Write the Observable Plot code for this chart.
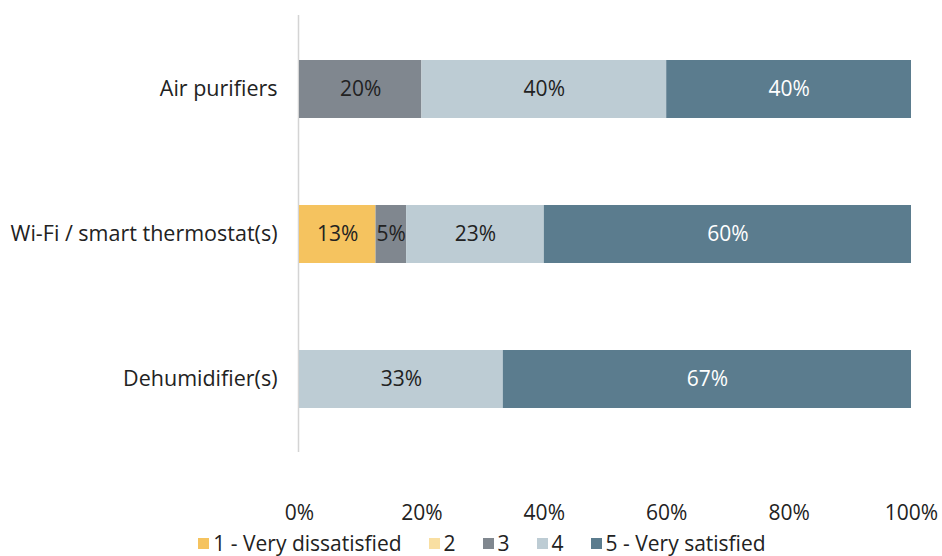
<!DOCTYPE html>
<html><head><meta charset="utf-8">
<script src="https://cdn.jsdelivr.net/npm/d3@7"></script>
<script src="https://cdn.jsdelivr.net/npm/@observablehq/plot@0.6"></script>
<style>
body{margin:0;background:#fff;font-family:"Open Sans",sans-serif;}
#legend{display:flex;justify-content:center;gap:27px;font-size:21px;color:#222;padding-left:22px;height:26px;align-items:center;margin-top:0;line-height:1}
#legend span.sw{display:inline-block;width:11px;height:11px;margin-right:4px}
</style></head><body>
<div id="chart"></div>
<div id="legend"></div>
<script>
const categories = ["Air purifiers", "Wi-Fi / smart thermostat(s)", "Dehumidifier(s)"];
const seriesNames = ["1 - Very dissatisfied", "2", "3", "4", "5 - Very satisfied"];
const colors = ["#F5C35F", "#F9DFA2", "#80878F", "#BDCCD4", "#5B7C8E"];
const labelColors = ["#222", "#222", "#222", "#222", "#fff"];
// percentage per series, in order of categories
const s1 = [0, 12.5, 0];
const s2 = [0, 0, 0];
const s3 = [20, 5, 0];
const s4 = [40, 22.5, 33.3];
const s5 = [40, 60, 66.7];
const xTicks = [0, 20, 40, 60, 80, 100];

const seriesValues = [s1, s2, s3, s4, s5];
const data = [];
seriesNames.forEach((s, i) => categories.forEach((c, j) => {
  data.push({cat: c, series: s, value: seriesValues[i][j], idx: i});
}));
const nonzero = data.filter(d => d.value > 0);

const chart = Plot.plot({
  width: 942, height: 530,
  marginLeft: 299, marginRight: 31, marginTop: 15, marginBottom: 78,
  style: {fontFamily: "Open Sans, sans-serif", fontSize: "21px", color: "#222"},
  x: {domain: [0, 100], axis: null},
  y: {domain: categories, paddingInner: 0.6, paddingOuter: 0.3, axis: null},
  color: {domain: seriesNames, range: colors},
  marks: [
    Plot.ruleX([0], {stroke: "#d4d4d4", strokeWidth: 1.5, dx: -1}),
    Plot.barX(nonzero, Plot.stackX({x: "value", y: "cat", fill: "series", z: "series", order: seriesNames})),
    Plot.text(nonzero, Plot.stackX({x: "value", y: "cat", z: "series", order: seriesNames,
      text: d => Math.round(d.value) + "%", fill: d => labelColors[d.idx], fontSize: 21})),
    Plot.axisY({tickSize: 0, tickPadding: 22, fontSize: 21.5, label: null}),
    Plot.axisX(xTicks, {tickSize: 0, tickPadding: 53, fontSize: 21, label: null, tickFormat: d => d + "%"})
  ]
});
document.getElementById("chart").appendChild(chart);

const leg = document.getElementById("legend");
seriesNames.forEach((s, i) => {
  const item = document.createElement("div");
  item.style.display = "flex"; item.style.alignItems = "center";
  item.innerHTML = `<span class="sw" style="background:${colors[i]}"></span><span>${s}</span>`;
  leg.appendChild(item);
});
</script>
</body></html>
